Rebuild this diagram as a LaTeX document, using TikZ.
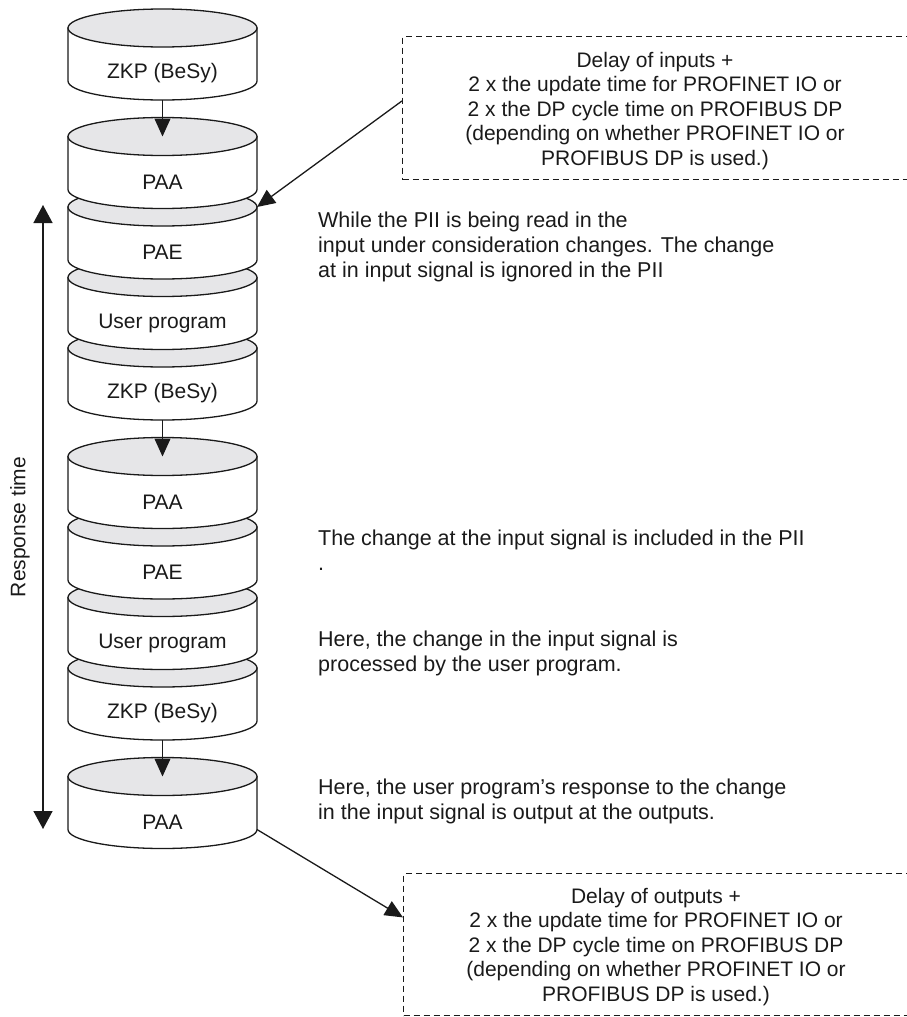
\documentclass[tikz,border=0pt]{standalone}
\usepackage{fontspec}
\setmainfont{Liberation Sans}
\usetikzlibrary{arrows.meta,calc}
\definecolor{ink}{HTML}{1A1A1A}
\definecolor{capgrey}{HTML}{E6E6E8}
\newcommand\drawcyl[3]{%
  \filldraw[cylline,fill=white] (68,-#2) -- (68,-#2-53)
    arc[start angle=180,end angle=360,x radius=94.5,y radius=19] -- (257,-#2) -- cycle;
  \filldraw[cylline,fill=capgrey] (162.5,-#2) ellipse[x radius=94.5,y radius=19];
  \node[cyllabel] (#1) at (162.5,-#2-45.5) {#3};
  \coordinate (#1-tc) at (162.5,-#2);
  \coordinate (#1-te) at (257,-#2);
  \coordinate (#1-bot) at (162.5,-#2-72);
  \coordinate (#1-be) at (257,-#2-53);
}
\begin{document}
\begin{tikzpicture}[x=1pt,y=1pt,
  every node/.style={font=\fontsize{21}{24}\selectfont,text=ink},
  cylline/.style={draw=ink,line width=1.3pt},
  cyllabel/.style={inner sep=0pt},
  flowarrow/.style={draw=ink,line width=1.3pt,-{Triangle[width=16pt,length=18pt]}},
  rtarrow/.style={draw=ink,line width=1.5pt,{Triangle[width=19pt,length=18pt]}-{Triangle[width=19pt,length=18pt]}},
  dbox/.style={draw=ink,dashed,dash pattern=on 6pt off 4pt,line width=1.3pt,inner sep=0pt},
  note/.style={align=left,inner sep=0pt,anchor=west,font=\fontsize{21.5}{25}\selectfont},
  boxtext/.style={align=center,inner sep=0pt,font=\fontsize{21}{24.5}\selectfont}]
\useasboundingbox (0,0) rectangle (907,-1017);
% cylinders, drawn from bottom to top so upper ones overlap lower ones
\drawcyl{paaC}{776.5}{PAA}
\drawcyl{zkpC}{668}{ZKP (BeSy)}
\drawcyl{usrB}{597.5}{User program}
\drawcyl{paeB}{527}{PAE}
\drawcyl{paaB}{456.5}{PAA}
\drawcyl{zkpB}{348}{ZKP (BeSy)}
\drawcyl{usrA}{277.5}{User program}
\drawcyl{paeA}{207}{PAE}
\drawcyl{paaA}{136.5}{PAA}
\drawcyl{zkpA}{28}{ZKP (BeSy)}
% flow arrows
\draw[flowarrow] (zkpA-bot) -- (paaA-tc);
\draw[flowarrow] (zkpB-bot) -- (paaB-tc);
\draw[flowarrow] (zkpC-bot) -- (paaC-tc);
% response time
\coordinate (rt-top) at (43,-205);
\coordinate (rt-bot) at (43,-829);
\draw[rtarrow] (rt-top) -- (rt-bot);
\node[rotate=90,inner sep=0pt] (rtlabel) at (20,-527) {Response time};
% dashed boxes
\node[dbox,minimum width=508pt,minimum height=143pt,anchor=north west] (inbox) at (402,-36) {};
\node[boxtext] (intext) at (655,-111) {Delay of inputs +\\2 x the update time for PROFINET IO or\\2 x the DP cycle time on PROFIBUS DP\\(depending on whether PROFINET IO or\\PROFIBUS DP is used.)};
\node[dbox,minimum width=508pt,minimum height=142pt,anchor=north west] (outbox) at (403,-873) {};
\node[boxtext] (outtext) at (656,-947) {Delay of outputs +\\2 x the update time for PROFINET IO or\\2 x the DP cycle time on PROFIBUS DP\\(depending on whether PROFINET IO or\\PROFIBUS DP is used.)};
\coordinate (inbox-out) at ($(inbox.north west)!0.45!(inbox.south west)$);
\coordinate (outbox-in) at ($(outbox.north west)!0.31!(outbox.south west)$);
\draw[flowarrow] (inbox-out) -- (paeA-te);
\draw[flowarrow] (paaC-be) -- (outbox-in);
% side notes
\node[note] (note1) at (318,-247) {While the PII is being read in the\\input under consideration changes. The change\\at in input signal is ignored in the PII};
\node[note] (note2) at (318,-550) {The change at the input signal is included in the PII\\.};
\node[note] (note3) at (318,-653) {Here, the change in the input signal is\\processed by the user program.};
\node[note] (note4) at (318,-801) {Here, the user program's response to the change\\in the input signal is output at the outputs.};
\end{tikzpicture}
\end{document}
